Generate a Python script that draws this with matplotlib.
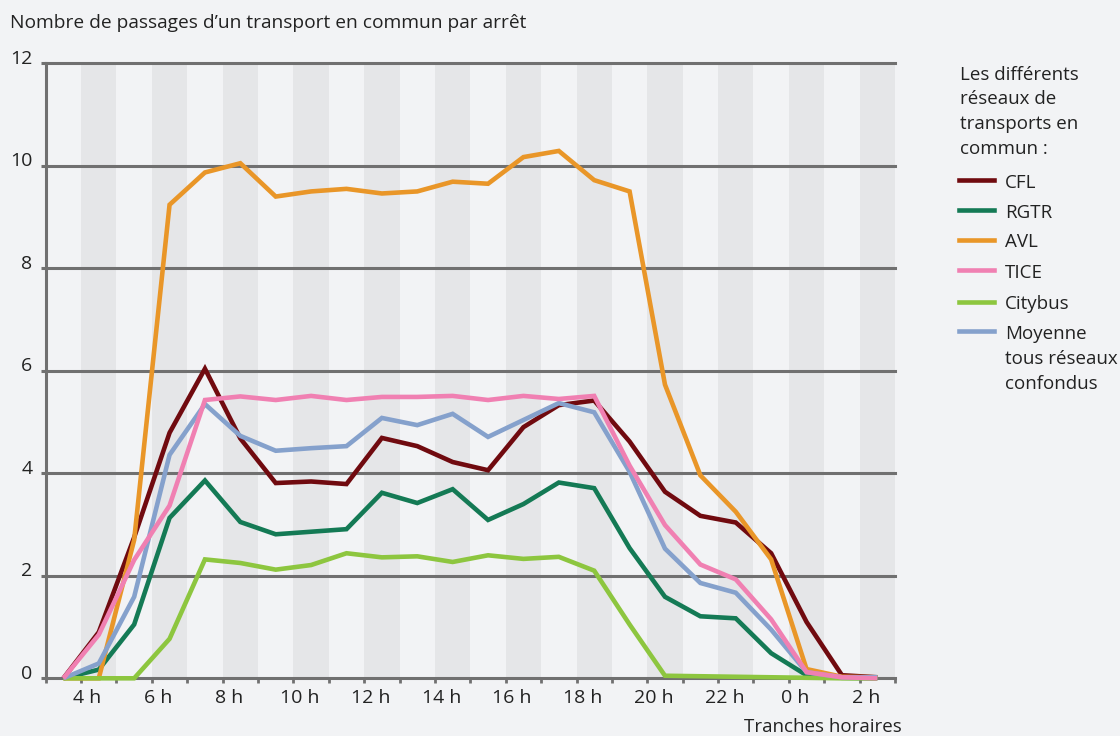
"""Nombre de passages d'un transport en commun par arrêt, par tranche horaire."""

import matplotlib

matplotlib.use("Agg")

import matplotlib.pyplot as plt
import numpy as np
from matplotlib.lines import Line2D
from matplotlib.transforms import ScaledTranslation

# Tranches horaires : 24 créneaux d'une heure, de 3 h à 3 h le lendemain
hour_labels = ["4 h", "6 h", "8 h", "10 h", "12 h", "14 h", "16 h",
               "18 h", "20 h", "22 h", "0 h", "2 h"]

cfl = [0, 0.9, 2.75, 4.79, 6.04, 4.68, 3.81, 3.84, 3.79, 4.69, 4.53, 4.22,
       4.06, 4.9, 5.33, 5.42, 4.62, 3.64, 3.17, 3.04, 2.44, 1.10, 0.06, 0.02]
rgtr = [0, 0.17, 1.05, 3.13, 3.86, 3.05, 2.81, 2.86, 2.91, 3.62, 3.42, 3.69,
        3.09, 3.40, 3.82, 3.71, 2.54, 1.59, 1.21, 1.17, 0.49, 0.06, 0.01, 0]
avl = [0, 0, 2.7, 9.24, 9.87, 10.05, 9.40, 9.50, 9.55, 9.46, 9.50, 9.69,
       9.65, 10.17, 10.29, 9.72, 9.50, 5.73, 3.96, 3.25, 2.32, 0.18, 0.03, 0.02]
tice = [0, 0.85, 2.31, 3.37, 5.43, 5.50, 5.43, 5.51, 5.43, 5.49, 5.49, 5.51,
        5.43, 5.51, 5.45, 5.51, 4.15, 2.99, 2.22, 1.93, 1.15, 0.12, 0.02, 0]
citybus = [0, 0, 0, 0.77, 2.32, 2.25, 2.12, 2.21, 2.44, 2.36, 2.38, 2.27,
           2.40, 2.33, 2.37, 2.10, 1.05, 0.05, 0.04, 0.03, 0.02, 0.01, 0, 0]
moyenne = [0, 0.29, 1.59, 4.36, 5.35, 4.73, 4.44, 4.49, 4.53, 5.08, 4.94, 5.16,
           4.71, 5.04, 5.37, 5.19, 4.03, 2.53, 1.86, 1.67, 0.95, 0.12, 0.02, 0.02]

series = [
    ("CFL", cfl, "#700a0f", 2),
    ("RGTR", rgtr, "#147a55", 3),
    ("AVL", avl, "#e99628", 4),
    ("TICE", tice, "#f080b2", 7),
    ("Citybus", citybus, "#8dc63f", 5),
    ("Moyenne\ntous réseaux\nconfondus", moyenne, "#85a1cc", 6),
]

BG = "#f2f3f5"
BAND = "#e5e6e8"
GRID = "#707070"
TEXT = "#222222"
FS = 13.5

plt.rcParams["font.family"] = ["Open Sans", "DejaVu Sans"]
plt.rcParams["font.size"] = FS

W, H = 1120, 736
fig = plt.figure(figsize=(W / 100, H / 100), dpi=100, facecolor=BG)
ax = fig.add_axes([45.7 / W, 1 - 678.3 / H, (895 - 45.7) / W, (678.3 - 63.3) / H])
ax.set_facecolor(BG)

n = len(cfl)
x = np.arange(n) + 0.5

# bandes grises une heure sur deux
for i in range(1, n, 2):
    ax.axvspan(i, i + 1, color=BAND, lw=0, zorder=0)

yticks = np.arange(0, 13, 2)
for yv in yticks:
    ax.axhline(yv, color=GRID, lw=2.2, zorder=1, clip_on=False)

for name, vals, color, z in series:
    ax.plot(x, vals, color=color, lw=3.3, zorder=z, clip_on=False,
            solid_joinstyle="miter", solid_capstyle="butt")

ax.set_xlim(0, n)
ax.set_ylim(0, 12)

for s in ["top", "right", "bottom"]:
    ax.spines[s].set_visible(False)
ax.spines["left"].set_color(GRID)
ax.spines["left"].set_linewidth(2.2)

ax.set_yticks(yticks)
ax.set_yticklabels([str(v) for v in yticks])
ax.tick_params(axis="y", length=3.6, width=2.2, color=GRID, pad=6,
               labelsize=14, labelcolor=TEXT)
offset = ScaledTranslation(0, 6.5 / 100, fig.dpi_scale_trans)
for lab in ax.get_yticklabels():
    lab.set_transform(lab.get_transform() + offset)

ax.set_xticks(np.arange(0, n + 1))
ax.set_xticklabels([])
ax.tick_params(axis="x", which="major", length=3.6, width=2, color=GRID)
ax.set_xticks(np.arange(1, n, 2) + 0.18, minor=True)
ax.set_xticklabels(hour_labels, minor=True)
ax.tick_params(axis="x", which="minor", length=0, pad=8, labelsize=14,
               labelcolor=TEXT)

fig.text(10 / W, 1 - 23 / H, "Nombre de passages d\u2019un transport en commun par arrêt",
         ha="left", va="center", fontsize=13.8, color=TEXT)
fig.text(902 / W, 1 - 727 / H, "Tranches horaires", ha="right", va="center",
         fontsize=FS, color=TEXT)

# légende
LS = 1.49
fig.text(960 / W, 1 - 65.5 / H, "Les différents\nréseaux de\ntransports en\ncommun :",
         ha="left", va="top", fontsize=FS, color=TEXT, linespacing=LS)
item_y = [180, 210, 240, 270, 301.5, 331.5]
for (name, vals, color, z), yy in zip(series, item_y):
    fig.add_artist(Line2D([959 / W, 994 / W], [1 - yy / H, 1 - yy / H],
                          color=color, lw=3.3, transform=fig.transFigure))
    fig.text(1005 / W, 1 - (yy - 6.5) / H, name, ha="left", va="top",
             fontsize=FS, color=TEXT, linespacing=LS)

fig.savefig("out.png", dpi=100, facecolor=BG)
